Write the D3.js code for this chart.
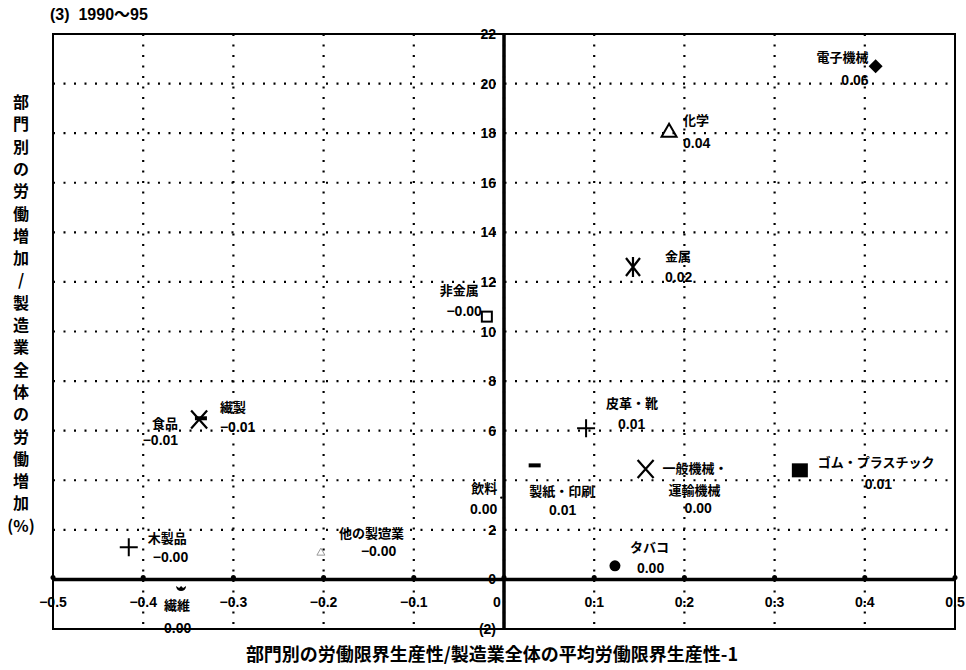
<!DOCTYPE html>
<html>
<head>
<meta charset="utf-8">
<script src="https://cdn.jsdelivr.net/npm/d3@7"></script>
<style>
  body { margin: 0; background: #fff; }
  svg { font-family: "Liberation Sans", "Noto Sans CJK JP", sans-serif; font-weight: bold; }
  .jp { font-family: "Noto Sans CJK JP", sans-serif; font-weight: bold; }
</style>
</head>
<body>
<svg id="canvas" width="966" height="670"></svg>
<script>
// sectors, x = relative marginal labour productivity - 1, y = labour growth (%)
const sectors = ["電子機械", "化学", "金属", "非金属", "皮革・靴", "一般機械・運輸機械", "ゴム・プラスチック",
                 "製紙・印刷", "飲料", "タバコ", "食品", "繊製", "木製品", "他の製造業", "繊維"];
const xValues = [0.412, 0.183, 0.143, -0.019, 0.091, 0.157, 0.328, 0.034, -0.003, 0.123, -0.338, -0.336, -0.416, -0.203, -0.358];
const yValues = [20.7, 18.1, 12.6, 10.6, 6.1, 4.45, 4.4, 4.6, 3.3, 0.55, 6.45, 6.5, 1.3, 1.1, -0.35];
const shareLabels = ["0.06", "0.04", "0.02", "-0.00", "0.01", "0.00", "0.01", "0.01", "0.00", "0.00", "-0.01", "-0.01", "-0.00", "-0.00", "0.00"];
const markers = ["diamond", "triangle", "asterisk", "square", "plus", "cross", "filledSquare",
                 "dash", "dot", "circle", "cross", "dash", "plus", "smallTriangle", "half"];

const xTicks = [-0.5, -0.4, -0.3, -0.2, -0.1, 0, 0.1, 0.2, 0.3, 0.4, 0.5];
const yTicks = [-2, 0, 2, 4, 6, 8, 10, 12, 14, 16, 18, 20, 22];
const hiddenYTicks = [4]; // covered by the 飲料 label in the original

const title = "(3)  1990～95";
const yTitle = "部門別の労働増加/製造業全体の労働増加(%)";
const xTitle = "部門別の労働限界生産性/製造業全体の平均労働限界生産性-1";

// label layout relative to marker: lines, dx, dy, anchor
const labelLayout = {
  "電子機械": {lines: ["電子機械", "0.06"], dx: [-7, -7], dy: [-4, 19], anchor: "end"},
  "化学": {lines: ["化学", "0.04"], dx: [14, 14], dy: [-6, 17], anchor: "start"},
  "金属": {lines: ["金属", "0.02"], dx: [32, 32], dy: [-6, 15], anchor: "start"},
  "非金属": {lines: ["非金属", "-0.00"], dx: [-8, -5], dy: [-22, -1], anchor: "end"},
  "皮革・靴": {lines: ["皮革・靴", "0.01"], dx: [20, 32], dy: [-20, 1], anchor: "start"},
  "一般機械・運輸機械": {lines: ["一般機械・", "運輸機械", "0.00"], dx: [17, 23, 39], dy: [4, 26, 44], anchor: "start"},
  "ゴム・プラスチック": {lines: ["ゴム・プラスチック", "0.01"], dx: [18, 65], dy: [-3, 19], anchor: "start"},
  "製紙・印刷": {lines: ["製紙・印刷", "0.01"], dx: [27, 28], dy: [31, 50], anchor: "middle"},
  "飲料": {lines: ["飲料", "0.00"], dx: [-4, -4], dy: [-5, 16], anchor: "end"},
  "タバコ": {lines: ["タバコ", "0.00"], dx: [15, 22], dy: [-14, 7], anchor: "start"},
  "食品": {lines: ["食品", "-0.01"], dx: [-21, -21], dy: [8, 25], anchor: "end"},
  "繊製": {lines: ["繊製", "-0.01"], dx: [19, 19], dy: [-6, 14], anchor: "start"},
  "木製品": {lines: ["木製品", "-0.00"], dx: [19, 24], dy: [-4, 15], anchor: "start"},
  "他の製造業": {lines: ["他の製造業", "-0.00"], dx: [18, 40], dy: [-14, 4], anchor: "start"},
  "繊維": {lines: ["繊維", "0.00"], dx: [-17, -17], dy: [22, 45], anchor: "start"}
};

const svg = d3.select("#canvas");
const x = d3.scaleLinear().domain([-0.5, 0.5]).range([53, 955]);
const y = d3.scaleLinear().domain([-2, 22]).range([629, 34]);

// dotted grid
svg.append("g").selectAll("line").data(xTicks.slice(1, -1)).enter().append("line")
  .attr("x1", d => x(d)).attr("x2", d => x(d)).attr("y1", y(22)).attr("y2", y(-2))
  .attr("stroke", "#000").attr("stroke-width", 2.2).attr("stroke-dasharray", "2,8.5");
svg.append("g").selectAll("line").data(yTicks.slice(1, -1)).enter().append("line")
  .attr("x1", x(-0.5)).attr("x2", x(0.5)).attr("y1", d => y(d)).attr("y2", d => y(d))
  .attr("stroke", "#000").attr("stroke-width", 2.2).attr("stroke-dasharray", "2,8.5");

// frame
svg.append("rect").attr("x", x(-0.5)).attr("y", y(22)).attr("width", x(0.5) - x(-0.5)).attr("height", y(-2) - y(22))
  .attr("fill", "none").attr("stroke", "#000").attr("stroke-width", 2);

// y tick labels (left of the zero axis)
svg.append("g").selectAll("text").data(yTicks.filter(d => !hiddenYTicks.includes(d))).enter().append("text")
  .attr("x", x(0) - 8).attr("y", d => y(d)).attr("dy", "0.36em")
  .attr("text-anchor", "end").attr("font-size", 14)
  .text(d => d < 0 ? "(" + Math.abs(d) + ")" : d);

// x tick labels
svg.append("g").selectAll("text").data(xTicks).enter().append("text")
  .attr("x", d => x(d) + (d === 0 ? -7 : 0)).attr("y", y(0) + 28)
  .attr("text-anchor", "middle").attr("font-size", 14)
  .text(d => d === 0 ? "0" : d3.format(".1f")(d).replace("-", "−"));

// zero axes
svg.append("line").attr("x1", x(-0.5)).attr("x2", x(0.5)).attr("y1", y(0)).attr("y2", y(0))
  .attr("stroke", "#000").attr("stroke-width", 3.5);
svg.append("line").attr("x1", x(0)).attr("x2", x(0)).attr("y1", y(22)).attr("y2", y(-2))
  .attr("stroke", "#000").attr("stroke-width", 3.5);
svg.append("g").selectAll("circle").data(xTicks).enter().append("circle")
  .attr("cx", d => x(d)).attr("cy", y(0) - 2).attr("r", 2.5).attr("fill", "#000");

// markers
const drawMarker = (g, type) => {
  if (type === "diamond") g.append("path").attr("d", "M0,-7L7,0L0,7L-7,0Z").attr("fill", "#000");
  else if (type === "triangle") g.append("path").attr("d", "M0,-7L7.5,6L-7.5,6Z").attr("fill", "none").attr("stroke", "#000").attr("stroke-width", 2);
  else if (type === "smallTriangle") g.append("path").attr("d", "M0,-4L4,3L-4,3Z").attr("fill", "none").attr("stroke", "#999").attr("stroke-width", 1);
  else if (type === "asterisk") g.append("path").attr("d", "M-7,-9L7,9M7,-9L-7,9M0,-10V10").attr("stroke", "#000").attr("stroke-width", 2.2);
  else if (type === "square") g.append("rect").attr("x", -5).attr("y", -5).attr("width", 10).attr("height", 10).attr("fill", "#fff").attr("stroke", "#000").attr("stroke-width", 2);
  else if (type === "filledSquare") g.append("rect").attr("x", -8).attr("y", -7).attr("width", 16).attr("height", 14).attr("fill", "#000");
  else if (type === "plus") g.append("path").attr("d", "M-9,0H9M0,-9V9").attr("stroke", "#000").attr("stroke-width", 2);
  else if (type === "cross") g.append("path").attr("d", "M-8,-9L8,9M8,-9L-8,9").attr("stroke", "#000").attr("stroke-width", 2.2);
  else if (type === "dash") g.append("rect").attr("x", -6).attr("y", -2).attr("width", 12).attr("height", 4).attr("fill", "#000");
  else if (type === "dot") g.append("circle").attr("r", 1.2).attr("fill", "#000");
  else if (type === "circle") g.append("circle").attr("r", 5.5).attr("fill", "#000");
  else if (type === "half") g.append("path").attr("d", "M-5,-2A5,5 0 0 0 5,-2L2,0L0,-2L-2,0Z").attr("fill", "#000");
};

const points = sectors.map((s, i) => ({name: s, x: xValues[i], y: yValues[i], share: shareLabels[i], marker: markers[i]}));

const pts = svg.append("g").selectAll("g").data(points).enter().append("g")
  .attr("transform", d => `translate(${x(d.x)},${y(d.y)})`);
pts.each(function (d) { drawMarker(d3.select(this), d.marker); });

pts.each(function (d) {
  const lay = labelLayout[d.name];
  lay.lines.forEach((line, k) => {
    const numeric = /^[-0-9.]+$/.test(line);
    d3.select(this).append("text")
      .attr("class", numeric ? null : "jp")
      .attr("x", lay.dx[k]).attr("y", lay.dy[k])
      .attr("text-anchor", lay.anchor)
      .attr("font-size", numeric ? 14 : 13)
      .text(line.replace("-", "−"));
  });
});

// titles
svg.append("text").attr("x", 50).attr("y", 20).attr("font-size", 16)
  .style("white-space", "pre").text(title);

svg.append("g").attr("class", "jp").selectAll("text")
  .data(Array.from(yTitle.replace("(%)", "")).concat(["(%)"])).enter().append("text")
  .attr("x", 21).attr("y", (d, i) => 108 + i * 22.3)
  .attr("text-anchor", "middle").attr("font-size", 16)
  .text(d => d);

svg.append("text").attr("class", "jp").attr("x", 492).attr("y", 661)
  .attr("text-anchor", "middle").attr("font-size", 18).text(xTitle);
</script>
</body>
</html>
